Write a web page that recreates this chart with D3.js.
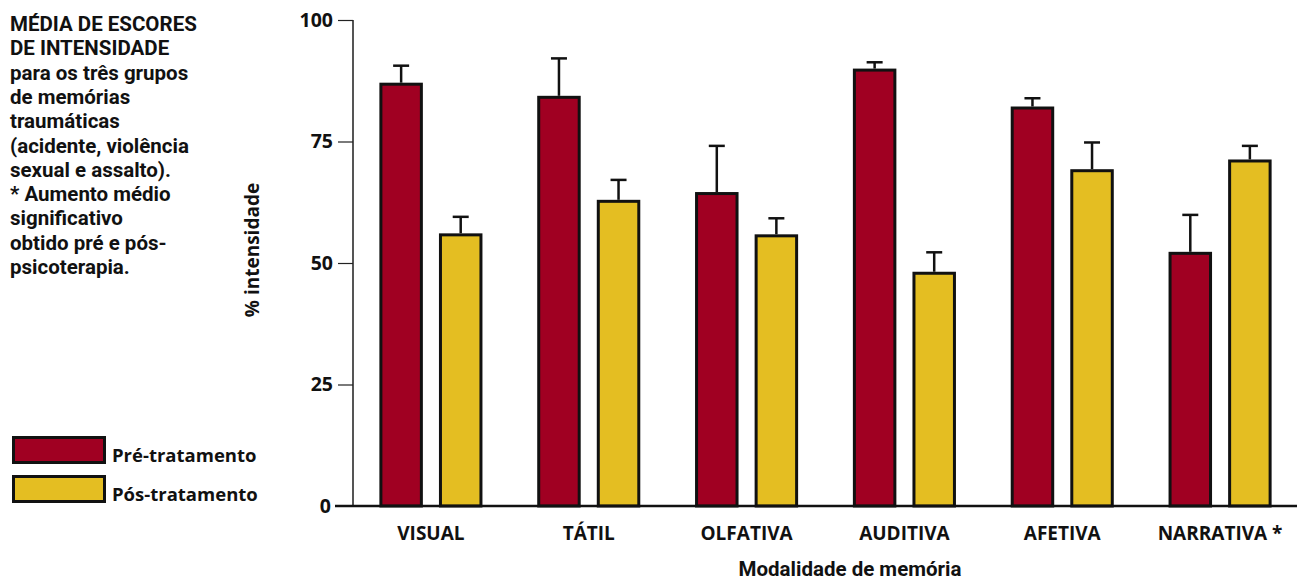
<!DOCTYPE html>
<html><head><meta charset="utf-8">
<script src="https://cdn.jsdelivr.net/npm/d3@7"></script>
<style>
html,body{margin:0;padding:0;background:#fff;}
svg{display:block;font-family:"Open Sans",sans-serif;font-weight:700;}
.ttl{font-family:Roboto,"Open Sans",sans-serif;}
</style></head>
<body><svg id="c" width="1297" height="581"></svg>
<script>
const categories = ["VISUAL","TÁTIL","OLFATIVA","AUDITIVA","AFETIVA","NARRATIVA *"];
const preValues  = [87.1, 84.4, 64.6, 90.0, 82.2, 52.3];
const preErrors  = [3.5, 7.7, 9.5, 1.3, 1.7, 7.6];
const posValues  = [56.1, 63.0, 55.9, 48.2, 69.3, 71.3];
const posErrors  = [3.4, 4.1, 3.3, 4.0, 5.5, 2.8];
const seriesNames = ["Pré-tratamento","Pós-tratamento"];
const seriesColors = ["#A00022","#E4BE22"];
const yTicks = [0,25,50,75,100];
const titleLines = [
  "MÉDIA DE ESCORES",
  "DE INTENSIDADE",
  "para os três grupos",
  "de memórias",
  "traumáticas",
  "(acidente, violência",
  "sexual e assalto).",
  "* Aumento médio",
  "significativo",
  "obtido pré e pós-",
  "psicoterapia."
];

const svg = d3.select("#c");
const y = d3.scaleLinear().domain([0,100]).range([506,20]);
const x0 = d3.scaleBand().domain(categories).range([352,1299]).paddingInner(0.347).paddingOuter(0.1735);
const x1 = d3.scaleBand().domain(seriesNames).range([0,x0.bandwidth()]).paddingInner(0.27).paddingOuter(0);

const data = categories.map((c,i)=>({
  cat:c,
  vals:[
    {s:seriesNames[0], v:preValues[i], e:preErrors[i], col:seriesColors[0]},
    {s:seriesNames[1], v:posValues[i], e:posErrors[i], col:seriesColors[1]}
  ]
}));

// title text (one text element per line)
svg.append("g").selectAll("text").data(titleLines).join("text").attr("class","ttl")
  .attr("x",10).attr("y",(d,i)=>31+i*24.3).attr("font-size",20.5).attr("fill","#111").text(d=>d);

// y axis
const yAxis = d3.axisLeft(y).tickValues(yTicks.slice(1)).tickSize(15).tickPadding(5).tickFormat(d3.format("d"));
const gy = svg.append("g").attr("transform","translate(353,0)").call(yAxis);
gy.select(".domain").attr("stroke","#555").attr("stroke-width",2).attr("d","M0,20V506");
gy.selectAll(".tick line").attr("stroke","#222").attr("stroke-width",1.2);
gy.selectAll(".tick text").attr("font-size",19.5).attr("font-family","Open Sans, sans-serif").attr("font-weight",700).attr("fill","#111");

// zero label
svg.append("text").attr("x",331).attr("y",y(0)).attr("dy","0.35em").attr("text-anchor","end")
  .attr("font-size",19.5).attr("fill","#111").text(yTicks[0]);

// bars
const groups = svg.append("g").selectAll("g").data(data).join("g")
  .attr("transform",d=>`translate(${x0(d.cat)},0)`);

groups.selectAll("line.err").data(d=>d.vals).join("line").attr("class","err")
  .attr("x1",d=>x1(d.s)+x1.bandwidth()/2).attr("x2",d=>x1(d.s)+x1.bandwidth()/2)
  .attr("y1",d=>y(d.v)).attr("y2",d=>y(d.v+d.e))
  .attr("stroke","#111").attr("stroke-width",2.5);
groups.selectAll("line.cap").data(d=>d.vals).join("line").attr("class","cap")
  .attr("x1",d=>x1(d.s)+x1.bandwidth()/2-8).attr("x2",d=>x1(d.s)+x1.bandwidth()/2+8)
  .attr("y1",d=>y(d.v+d.e)).attr("y2",d=>y(d.v+d.e))
  .attr("stroke","#111").attr("stroke-width",2.5);

groups.selectAll("rect").data(d=>d.vals).join("rect")
  .attr("x",d=>x1(d.s)+1.5).attr("width",x1.bandwidth()-3)
  .attr("y",d=>y(d.v)+1.5).attr("height",d=>y(0)-y(d.v)-1.5)
  .attr("fill",d=>d.col).attr("stroke","#111").attr("stroke-width",3);

// baseline
svg.append("line").attr("x1",335).attr("x2",1297).attr("y1",y(0)).attr("y2",y(0))
  .attr("stroke","#111").attr("stroke-width",2.5);

// x labels
svg.append("g").selectAll("text").data(categories).join("text")
  .attr("x",d=>x0(d)+x0.bandwidth()/2).attr("y",540).attr("text-anchor","middle")
  .attr("font-size",19).attr("fill","#111").text(d=>d);

// axis titles
svg.append("text").attr("class","ttl").attr("x",850).attr("y",575.5).attr("text-anchor","middle")
  .attr("font-size",20.5).attr("fill","#111").text("Modalidade de memória");
svg.append("text").attr("transform","translate(259,250) rotate(-90)").attr("text-anchor","middle")
  .attr("font-size",19).attr("fill","#111").text("% intensidade");

// legend
const lg = svg.append("g").selectAll("g").data(seriesNames).join("g")
  .attr("transform",(d,i)=>`translate(0,${i*39})`);
lg.append("rect").attr("x",13.5).attr("y",437.5).attr("width",91).attr("height",25)
  .attr("fill",(d,i)=>seriesColors[i]).attr("stroke","#111").attr("stroke-width",3);
lg.append("text").attr("x",112).attr("y",462).attr("font-size",18.5).attr("fill","#111").text(d=>d);
</script></body></html>
